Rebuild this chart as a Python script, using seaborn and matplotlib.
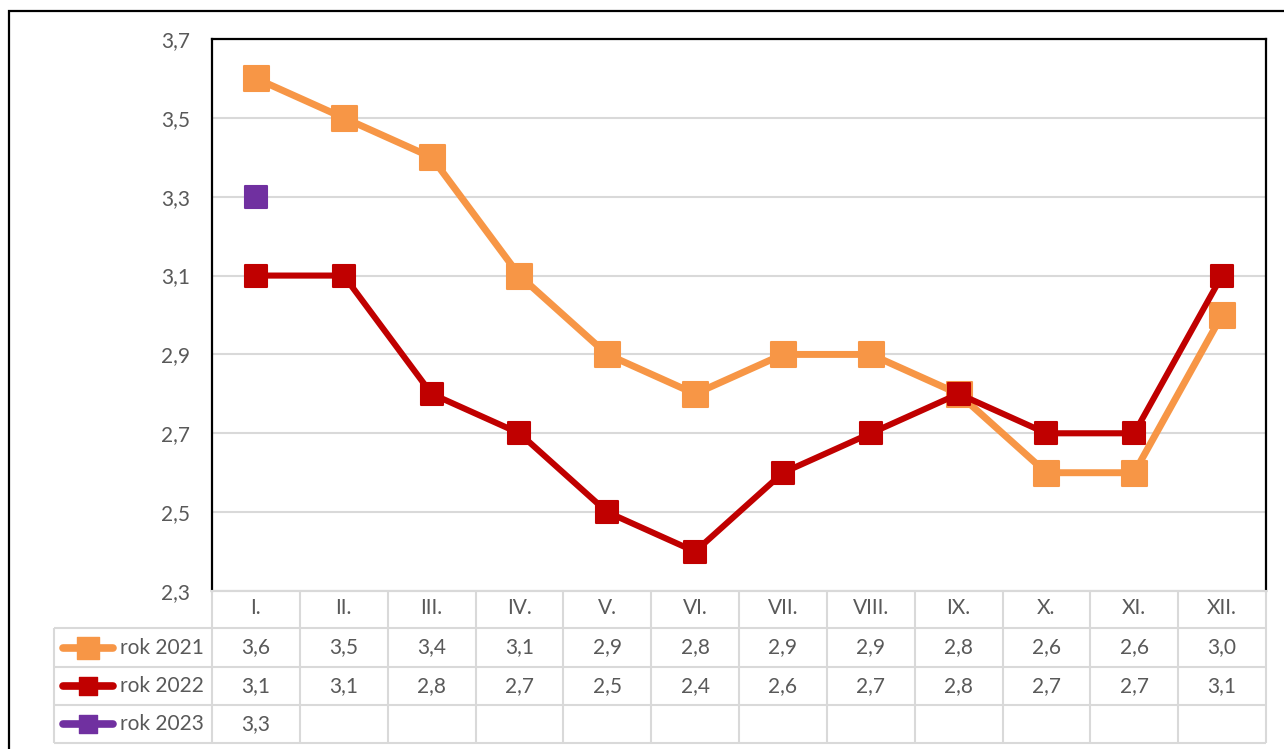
import numpy as np
import pandas as pd
import seaborn as sns
import matplotlib
matplotlib.use("Agg")
import matplotlib.pyplot as plt
from matplotlib.markers import MarkerStyle
from matplotlib.patches import Rectangle

# ---- data ----
months = ["I.", "II.", "III.", "IV.", "V.", "VI.", "VII.", "VIII.", "IX.", "X.", "XI.", "XII."]
rok_2021 = [3.6, 3.5, 3.4, 3.1, 2.9, 2.8, 2.9, 2.9, 2.8, 2.6, 2.6, 3.0]
rok_2022 = [3.1, 3.1, 2.8, 2.7, 2.5, 2.4, 2.6, 2.7, 2.8, 2.7, 2.7, 3.1]
rok_2023 = [3.3]
series_names = ["rok 2021", "rok 2022", "rok 2023"]
y_ticks = [2.3, 2.5, 2.7, 2.9, 3.1, 3.3, 3.5, 3.7]

colors = ["#F79646", "#C00000", "#7030A0"]
series = [rok_2021, rok_2022, rok_2023]

sns.set_theme(style="white")
plt.rcParams["font.family"] = ["Lato", "DejaVu Sans"]

W, H = 1284, 749
fig = plt.figure(figsize=(W / 100, H / 100), dpi=100)


def px(x0, y0, x1, y1):
    return [x0 / W, 1 - y1 / H, (x1 - x0) / W, (y1 - y0) / H]


TXT = "#595959"
GRID = "#D9D9D9"
FS = 15

ax = fig.add_axes(px(212, 39, 1266, 591))
msizes = [18, 16, 16]
lwidths = [5.0, 4.4, 4.4]
for name, vals, c, ms, lw in zip(series_names, series, colors, msizes, lwidths):
    df = pd.DataFrame({"x": np.arange(len(vals)), "y": vals})
    sns.lineplot(data=df, x="x", y="y", ax=ax, color=c, linewidth=lw,
                 marker=MarkerStyle("s", joinstyle="round"), markersize=ms,
                 markeredgecolor=c, markeredgewidth=1.5, label=None)

ax.set_xlim(-0.5, len(months) - 0.5)
ax.set_ylim(y_ticks[0], y_ticks[-1])
ax.set_yticks(y_ticks)
ax.set_yticklabels([f"{v:.1f}".replace(".", ",") for v in y_ticks], color=TXT, fontsize=FS)
ax.tick_params(axis="y", length=0, pad=16)
ax.set_xticks([])
ax.set_xlabel("")
ax.set_ylabel("")
ax.yaxis.grid(True, color=GRID, linewidth=1.5)
ax.set_axisbelow(True)
for s in ["left", "top", "right"]:
    ax.spines[s].set_color("black")
    ax.spines[s].set_linewidth(1.6)
ax.spines["bottom"].set_color(GRID)
ax.spines["bottom"].set_linewidth(1.5)
if ax.get_legend():
    ax.get_legend().remove()

# ---- data table ----
col_w = (1266 - 212) / 12.0
leg_w = (212 - 54) / col_w
axt = fig.add_axes(px(54, 591, 1266, 743))
axt.set_xlim(-leg_w, 12)
axt.set_ylim(152, 0)
axt.axis("off")
rows_y = [0, 37, 76, 114, 152]
lkw = dict(color=GRID, linewidth=1.5, solid_capstyle="butt", clip_on=False)
axt.plot([0, 12], [0, 0], **lkw)
for yy in rows_y[1:]:
    axt.plot([-leg_w, 12], [yy, yy], **lkw)
for i in range(13):
    axt.plot([i, i], [0, 152], **lkw)
axt.plot([-leg_w, -leg_w], [37, 152], **lkw)

for i, m in enumerate(months):
    axt.text(i + 0.5, 17, m, ha="center", va="center", color=TXT, fontsize=FS)

for r, (name, vals, c, ms) in enumerate(zip(series_names, series, colors, msizes)):
    yc = (rows_y[r + 1] + rows_y[r + 2]) / 2
    x0, x1 = -leg_w + 0.10, -leg_w + 0.67
    axt.plot([x0, (x0 + x1) / 2, x1], [yc, yc, yc], color=c, linewidth=5.5,
             solid_capstyle="round", marker=MarkerStyle("s", joinstyle="round"),
             markersize=ms * 0.85, markevery=[1], markeredgecolor=c, clip_on=False)
    axt.text(-leg_w + 0.75, yc, name, ha="left", va="center", color=TXT, fontsize=FS)
    for i, v in enumerate(vals):
        axt.text(i + 0.5, yc, f"{v:.1f}".replace(".", ","), ha="center", va="center",
                 color=TXT, fontsize=FS)

# outer chart frame
fig.patches.append(Rectangle((9 / W, -0.05), 1.2, 1 - 11 / H + 0.05,
                             transform=fig.transFigure, fill=False,
                             edgecolor="black", linewidth=1.6))

fig.savefig("out.png", dpi=100, facecolor="white")
